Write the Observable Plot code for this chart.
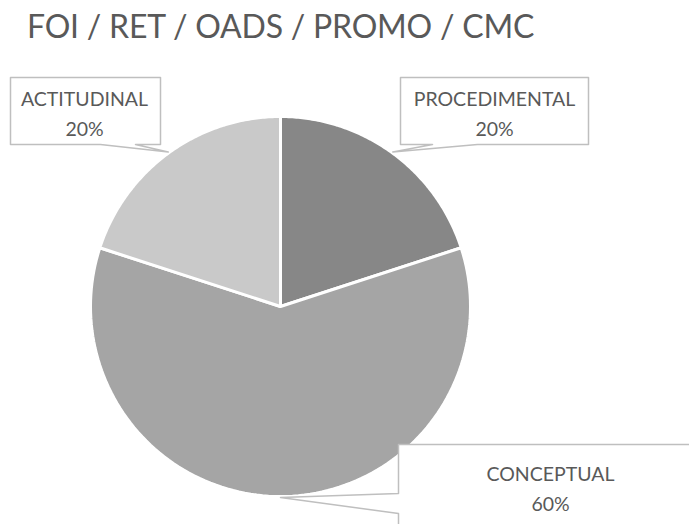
<!DOCTYPE html>
<html>
<head>
<meta charset="utf-8">
<script src="https://cdn.jsdelivr.net/npm/d3@7"></script>
<script src="https://cdn.jsdelivr.net/npm/@observablehq/plot@0.6"></script>
<style>
  html, body { margin: 0; padding: 0; background: #fff; }
  #title { height: 60px; position: relative; }
  #title span { position: absolute; left: 27px; top: 10px; font-family: Lato, "Open Sans", sans-serif; font-size: 32px; line-height: 32px; letter-spacing: -0.2px; color: #595959; white-space: nowrap; }
  #chart svg { display: block; }
</style>
</head>
<body>
<div id="title"><span>FOI / RET / OADS / PROMO / CMC</span></div>
<div id="chart"></div>
<script>
// ---- data ----
const categories = ["PROCEDIMENTAL", "CONCEPTUAL", "ACTITUDINAL"];
const values = [20, 60, 20];
const percentLabels = ["20%", "60%", "20%"];

// ---- style / layout ----
const sliceColors = ["#878787", "#a5a5a5", "#c9c9c9"];
const W = 689, H = 524, TOP = 60;
const cx = 280, cy = 306, R = 190;
// callout boxes [x0, x1, y0, y1], pointer base along an edge
const callouts = {
  "ACTITUDINAL":   {box: [10, 160, 77, 144], edge: "bottom", base: [100, 135], text: [84, 98]},
  "PROCEDIMENTAL": {box: [400, 588, 77, 144], edge: "bottom", base: [432, 477], text: [494, 98]},
  "CONCEPTUAL":    {box: [398, 720, 444, 560], edge: "left", base: [493, 513], text: [550, 473]}
};

const pieData = categories.map((c, i) => ({cat: c, value: values[i], label: percentLabels[i]}));
const arcs = d3.pie().sort(null).value(d => d.value)(pieData);

// slice polygons
const slicePts = [];
arcs.forEach(a => {
  slicePts.push({cat: a.data.cat, x: cx, y: cy});
  const n = 120;
  for (let k = 0; k <= n; k++) {
    const t = a.startAngle + (a.endAngle - a.startAngle) * k / n;
    slicePts.push({cat: a.data.cat, x: cx + R * Math.sin(t), y: cy - R * Math.cos(t)});
  }
});

// callout polygons
const calloutPts = [];
const textData = [];
arcs.forEach(a => {
  const c = callouts[a.data.cat];
  const mid = (a.startAngle + a.endAngle) / 2;
  const tip = [cx + (R + 1) * Math.sin(mid), cy - (R + 1) * Math.cos(mid)];
  const [x0, x1, y0, y1] = c.box;
  let poly;
  if (c.edge === "bottom") {
    poly = [[x0, y0], [x1, y0], [x1, y1], [c.base[1], y1], tip, [c.base[0], y1], [x0, y1]];
  } else {
    poly = [[x0, y0], [x1, y0], [x1, y1], [x0, y1], [x0, c.base[1]], tip, [x0, c.base[0]]];
  }
  poly.forEach(p => calloutPts.push({cat: a.data.cat, x: p[0], y: p[1]}));
  textData.push({x: c.text[0], y: c.text[1], text: a.data.cat + "\n" + a.data.label});
});

const plot = Plot.plot({
  width: W,
  height: H - TOP,
  margin: 0,
  x: {domain: [0, W], range: [0, W], axis: null},
  y: {domain: [H, TOP], range: [H - TOP, 0], axis: null},
  color: {domain: categories, range: sliceColors},
  style: {background: "#fff", overflow: "visible"},
  marks: [
    Plot.line(slicePts, {x: "x", y: "y", z: "cat", fill: "cat", stroke: "white", strokeWidth: 3, curve: "linear-closed", strokeLinejoin: "miter"}),
    Plot.line(calloutPts, {x: "x", y: "y", z: "cat", fill: "white", stroke: "#bfbfbf", strokeWidth: 1.5, curve: "linear-closed"}),
    Plot.text(textData, {x: "x", y: "y", text: "text", fill: "#595959", fontSize: 19.5, fontFamily: "Lato, 'Open Sans', sans-serif", lineHeight: 1.54, lineAnchor: "top", dy: -14})
  ]
});
document.getElementById("chart").appendChild(plot);
</script>
</body>
</html>
